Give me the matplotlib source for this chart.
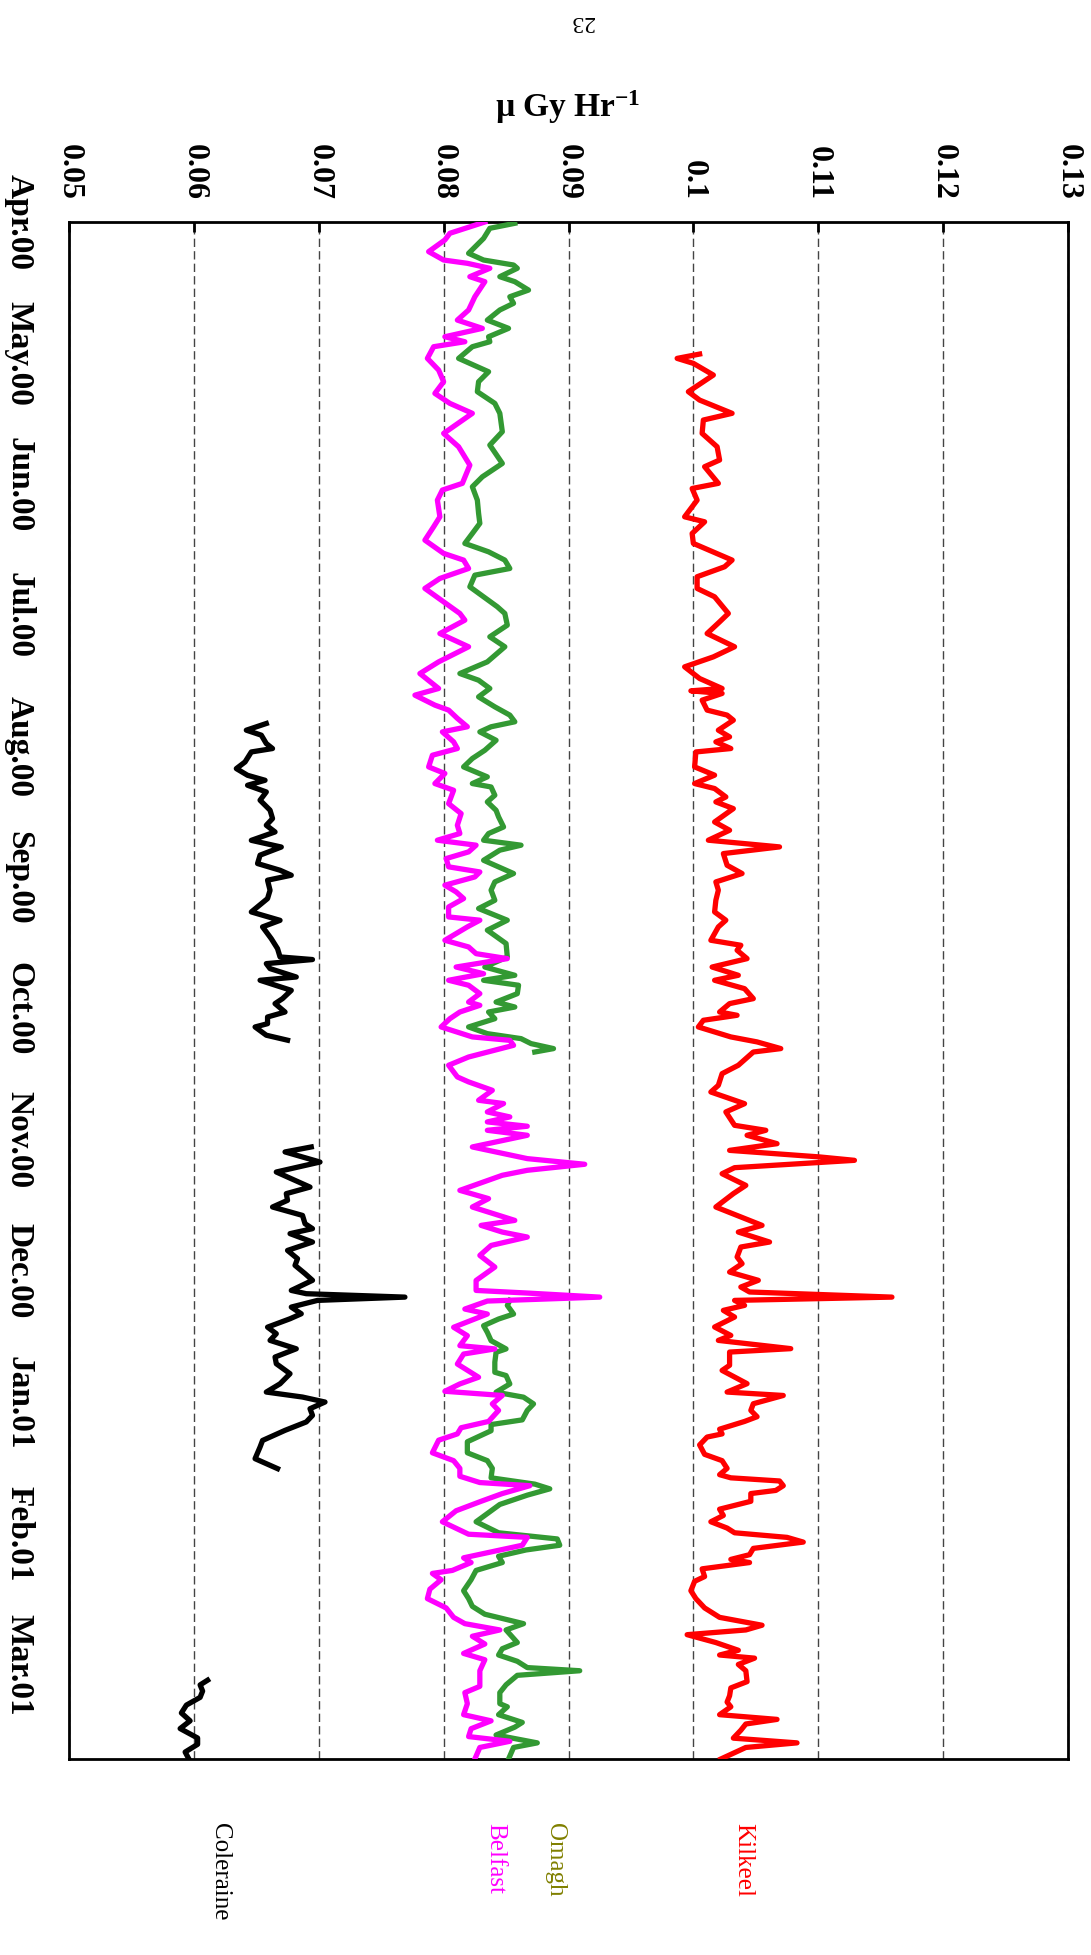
"""
Dose rate chart, four monitoring sites, Apr 2000 - Mar 2001.
Page is printed sideways, so values run across the top and time runs down.
"""
import matplotlib
matplotlib.use("Agg")
import matplotlib.pyplot as plt

plt.rcParams["font.family"] = ["Liberation Serif", "DejaVu Serif"]
plt.rcParams["mathtext.fontset"] = "custom"
plt.rcParams["mathtext.rm"] = "Liberation Serif:bold"
plt.rcParams["mathtext.default"] = "rm"

# time axis: months since Apr.00 (0 = Apr.00, 11 = Mar.01)
MONTHS = ["Apr.00", "May.00", "Jun.00", "Jul.00", "Aug.00", "Sep.00",
          "Oct.00", "Nov.00", "Dec.00", "Jan.01", "Feb.01", "Mar.01"]
DOSE_TICKS = [0.05, 0.06, 0.07, 0.08, 0.09, 0.1, 0.11, 0.12, 0.13]
DOSE_LABELS = ["0.05", "0.06", "0.07", "0.08", "0.09", "0.1", "0.11", "0.12", "0.13"]

kilkeel_t = [1.007, 1.040, 1.078, 1.167, 1.218, 1.294, 1.358, 1.459, 1.510, 1.612, 1.714, 1.815,
             1.866, 1.993, 2.032, 2.121, 2.248, 2.286, 2.375, 2.451, 2.578, 2.629, 2.705, 2.794,
             2.858, 2.985, 3.049, 3.138, 3.239, 3.316, 3.392, 3.481, 3.557, 3.575, 3.595, 3.646,
             3.722, 3.760, 3.799, 3.875, 3.926, 3.964, 4.015, 4.041, 4.155, 4.218, 4.282, 4.320,
             4.384, 4.422, 4.473, 4.575, 4.638, 4.714, 4.765, 4.816, 4.905, 4.968, 5.032, 5.095,
             5.172, 5.261, 5.324, 5.375, 5.477, 5.515, 5.553, 5.617, 5.681, 5.744, 5.782, 5.846,
             5.922, 5.960, 6.024, 6.049, 6.087, 6.138, 6.214, 6.252, 6.303, 6.329, 6.430, 6.494,
             6.583, 6.634, 6.723, 6.786, 6.888, 6.926, 6.964, 7.028, 7.079, 7.129, 7.155, 7.211,
             7.257, 7.346, 7.409, 7.511, 7.651, 7.702, 7.778, 7.816, 7.892, 7.943, 8.007, 8.070,
             8.121, 8.159, 8.198, 8.223, 8.261, 8.299, 8.350, 8.426, 8.490, 8.528, 8.591, 8.617,
             8.718, 8.757, 8.858, 8.922, 8.948, 9.011, 9.062, 9.110, 9.146, 9.205, 9.241, 9.265,
             9.325, 9.397, 9.445, 9.504, 9.552, 9.576, 9.600, 9.636, 9.672, 9.696, 9.755, 9.815,
             9.863, 9.911, 9.959, 9.995, 10.030, 10.066, 10.114, 10.162, 10.198, 10.222, 10.270,
             10.329, 10.365, 10.437, 10.497, 10.568, 10.640, 10.700, 10.736, 10.772, 10.832,
             10.891, 10.927, 10.951, 10.999, 11.047, 11.130, 11.178, 11.238, 11.286, 11.322,
             11.382, 11.418, 11.453, 11.501, 11.561, 11.597, 11.632, 11.72]
kilkeel_v = [0.1005, 0.0987, 0.1000, 0.1016, 0.1008, 0.0996, 0.1005, 0.1031, 0.1008, 0.1007, 0.1019, 0.1021,
             0.1009, 0.1020, 0.0999, 0.1003, 0.0993, 0.1009, 0.0999, 0.1000, 0.1031, 0.1025, 0.1003, 0.1003,
             0.1017, 0.1028, 0.1021, 0.1011, 0.1033, 0.1016, 0.0993, 0.1005, 0.1023, 0.0998, 0.1023, 0.1007,
             0.1011, 0.1027, 0.1032, 0.1020, 0.1029, 0.1018, 0.1030, 0.1002, 0.1001, 0.1017, 0.1001, 0.1017,
             0.1026, 0.1018, 0.1032, 0.1017, 0.1029, 0.1012, 0.1069, 0.1024, 0.1027, 0.1039, 0.1018, 0.1020,
             0.1018, 0.1017, 0.1026, 0.1020, 0.1014, 0.1038, 0.1035, 0.1043, 0.1015, 0.1036, 0.1017, 0.1041,
             0.1048, 0.1029, 0.1021, 0.1035, 0.1008, 0.1004, 0.1030, 0.1051, 0.1070, 0.1048, 0.1036, 0.1023,
             0.1020, 0.1014, 0.1041, 0.1026, 0.1033, 0.1058, 0.1043, 0.1067, 0.1029, 0.1101, 0.1129, 0.1033,
             0.1023, 0.1042, 0.1032, 0.1018, 0.1055, 0.1036, 0.1061, 0.1038, 0.1035, 0.1039, 0.1029, 0.1052,
             0.1038, 0.1045, 0.1159, 0.1033, 0.1041, 0.1024, 0.1033, 0.1017, 0.1030, 0.1020, 0.1078, 0.1029,
             0.1029, 0.1023, 0.1043, 0.1027, 0.1072, 0.1048, 0.1046, 0.1051, 0.1041, 0.1021, 0.1023, 0.1011,
             0.1005, 0.1009, 0.1023, 0.1027, 0.1021, 0.1030, 0.1069, 0.1072, 0.1066, 0.1046, 0.1046, 0.1021,
             0.1024, 0.1014, 0.1027, 0.1033, 0.1075, 0.1088, 0.1048, 0.1045, 0.1030, 0.1045, 0.1007,
             0.1009, 0.1001, 0.0998, 0.1002, 0.1009, 0.1021, 0.1055, 0.1042, 0.0995, 0.1018,
             0.1036, 0.1021, 0.1049, 0.1036, 0.1042, 0.1043, 0.1030, 0.1029, 0.1027, 0.1030,
             0.1021, 0.1067, 0.1042, 0.1038, 0.1032, 0.1083, 0.1042, 0.1022]

belfast_t = [0.000, 0.086, 0.137, 0.226, 0.290, 0.315, 0.353, 0.417, 0.455, 0.570, 0.671, 0.748,
             0.811, 0.875, 0.913, 0.951, 1.040, 1.129, 1.218, 1.307, 1.383, 1.459, 1.612, 1.714,
             1.854, 1.993, 2.044, 2.121, 2.248, 2.324, 2.426, 2.527, 2.578, 2.642, 2.718, 2.794,
             2.985, 3.036, 3.138, 3.239, 3.354, 3.443, 3.557, 3.608, 3.684, 3.722, 3.785, 3.849,
             3.888, 3.964, 4.015, 4.066, 4.155, 4.205, 4.282, 4.333, 4.435, 4.511, 4.600, 4.663,
             4.714, 4.752, 4.803, 4.854, 4.917, 4.956, 4.994, 5.057, 5.108, 5.159, 5.223, 5.299,
             5.324, 5.375, 5.477, 5.528, 5.579, 5.617, 5.681, 5.732, 5.782, 5.820, 5.884, 5.948,
             5.973, 6.024, 6.075, 6.138, 6.214, 6.240, 6.278, 6.367, 6.430, 6.519, 6.557, 6.621,
             6.697, 6.722, 6.786, 6.824, 6.862, 6.895, 6.926, 6.964, 7.053, 7.142, 7.185, 7.231,
             7.269, 7.384, 7.447, 7.511, 7.613, 7.651, 7.702, 7.740, 7.804, 7.880, 7.969, 8.071,
             8.147, 8.167, 8.198, 8.228, 8.289, 8.327, 8.428, 8.492, 8.568, 8.593, 8.632, 8.708,
             8.809, 8.860, 8.916, 8.948, 9.012, 9.062, 9.146, 9.194, 9.241, 9.289, 9.385, 9.445,
             9.504, 9.564, 9.612, 9.636, 9.696, 9.755, 9.827, 9.911, 10.006, 10.030, 10.090,
             10.186, 10.222, 10.282, 10.305, 10.353, 10.425, 10.497, 10.568, 10.640, 10.688,
             10.736, 10.784, 10.843, 10.915, 10.963, 11.047, 11.166, 11.214, 11.298, 11.382,
             11.429, 11.489, 11.549, 11.585, 11.632, 11.72]
belfast_v = [0.0833, 0.0805, 0.0801, 0.0788, 0.0800, 0.0819, 0.0837, 0.0821, 0.0833, 0.0825, 0.0820, 0.0811,
             0.0831, 0.0801, 0.0817, 0.0792, 0.0787, 0.0796, 0.0800, 0.0793, 0.0805, 0.0823, 0.0800, 0.0812,
             0.0821, 0.0815, 0.0799, 0.0795, 0.0797, 0.0792, 0.0785, 0.0800, 0.0816, 0.0820, 0.0797, 0.0785,
             0.0813, 0.0817, 0.0797, 0.0820, 0.0796, 0.0781, 0.0796, 0.0777, 0.0793, 0.0804, 0.0811, 0.0819,
             0.0799, 0.0808, 0.0811, 0.0791, 0.0788, 0.0801, 0.0793, 0.0808, 0.0804, 0.0814, 0.0811, 0.0813,
             0.0795, 0.0826, 0.0820, 0.0802, 0.0804, 0.0829, 0.0825, 0.0801, 0.0810, 0.0816, 0.0804, 0.0804,
             0.0829, 0.0819, 0.0801, 0.0820, 0.0826, 0.0851, 0.0810, 0.0832, 0.0804, 0.0820, 0.0829, 0.0820,
             0.0829, 0.0813, 0.0805, 0.0798, 0.0823, 0.0853, 0.0856, 0.0820, 0.0804, 0.0811, 0.0820, 0.0839,
             0.0828, 0.0848, 0.0835, 0.0853, 0.0835, 0.0867, 0.0835, 0.0867, 0.0823, 0.0867, 0.0913, 0.0867,
             0.0847, 0.0813, 0.0836, 0.0823, 0.0857, 0.0830, 0.0847, 0.0867, 0.0838, 0.0829, 0.0841, 0.0826,
             0.0826, 0.0867, 0.0925, 0.0835, 0.0817, 0.0835, 0.0808, 0.0819, 0.0813, 0.0841, 0.0816, 0.0811,
             0.0828, 0.0813, 0.0801, 0.0847, 0.0839, 0.0844, 0.0836, 0.0814, 0.0811, 0.0796, 0.0791, 0.0808,
             0.0813, 0.0813, 0.0829, 0.0869, 0.0847, 0.0830, 0.0810, 0.0799, 0.0820, 0.0867, 0.0863,
             0.0816, 0.0822, 0.0807, 0.0791, 0.0798, 0.0789, 0.0787, 0.0802, 0.0808, 0.0817,
             0.0845, 0.0823, 0.0833, 0.0816, 0.0833, 0.0829, 0.0829, 0.0817, 0.0819, 0.0816,
             0.0838, 0.0822, 0.0820, 0.0853, 0.0829, 0.0825]

# Omagh has a gap from November to early December
omagh_t1 = [0.010, 0.048, 0.125, 0.239, 0.290, 0.328, 0.353, 0.417, 0.455, 0.519, 0.570, 0.620,
            0.671, 0.748, 0.811, 0.875, 0.913, 0.951, 1.040, 1.142, 1.218, 1.294, 1.383, 1.459,
            1.599, 1.701, 1.841, 1.943, 2.019, 2.121, 2.222, 2.298, 2.375, 2.451, 2.515, 2.578,
            2.642, 2.693, 2.782, 2.934, 2.985, 3.074, 3.163, 3.239, 3.354, 3.443, 3.494, 3.557,
            3.621, 3.697, 3.760, 3.811, 3.849, 3.888, 3.952, 4.028, 4.091, 4.155, 4.231, 4.282,
            4.308, 4.371, 4.422, 4.486, 4.536, 4.613, 4.663, 4.714, 4.752, 4.790, 4.867, 4.968,
            5.032, 5.095, 5.172, 5.235, 5.324, 5.400, 5.502, 5.604, 5.681, 5.744, 5.782, 5.820,
            5.884, 5.948, 5.986, 6.024, 6.075, 6.138, 6.189, 6.227, 6.265, 6.303, 6.329]
omagh_v1 = [0.0857, 0.0837, 0.0832, 0.0820, 0.0832, 0.0856, 0.0859, 0.0845, 0.0857, 0.0868, 0.0853, 0.0856,
            0.0845, 0.0835, 0.0852, 0.0836, 0.0837, 0.0823, 0.0812, 0.0836, 0.0828, 0.0827, 0.0841, 0.0845,
            0.0847, 0.0837, 0.0847, 0.0831, 0.0823, 0.0827, 0.0828, 0.0829, 0.0823, 0.0817, 0.0836, 0.0849,
            0.0853, 0.0825, 0.0821, 0.0843, 0.0849, 0.0851, 0.0837, 0.0849, 0.0835, 0.0813, 0.0828, 0.0837,
            0.0828, 0.0841, 0.0853, 0.0857, 0.0838, 0.0829, 0.0842, 0.0833, 0.0823, 0.0816, 0.0835, 0.0823,
            0.0838, 0.0841, 0.0835, 0.0842, 0.0844, 0.0848, 0.0836, 0.0832, 0.0862, 0.0845, 0.0832, 0.0856,
            0.0841, 0.0838, 0.0841, 0.0828, 0.0851, 0.0835, 0.0850, 0.0851, 0.0833, 0.0857, 0.0832, 0.0860,
            0.0859, 0.0842, 0.0857, 0.0836, 0.0841, 0.0820, 0.0835, 0.0862, 0.0870, 0.0888, 0.0873]
omagh_t2 = [8.223, 8.261, 8.327, 8.365, 8.416, 8.467, 8.530, 8.593, 8.619, 8.694, 8.771, 8.796,
            8.860, 8.923, 8.961, 9.012, 9.062, 9.134, 9.170, 9.217, 9.301, 9.385, 9.445, 9.504,
            9.576, 9.624, 9.660, 9.708, 9.779, 9.911, 9.995, 10.042, 10.090, 10.126, 10.174,
            10.222, 10.282, 10.353, 10.437, 10.497, 10.556, 10.616, 10.688, 10.736, 10.832,
            10.879, 10.927, 10.975, 11.023, 11.047, 11.082, 11.154, 11.214, 11.298, 11.322,
            11.382, 11.441, 11.477, 11.537, 11.597, 11.632, 11.72]
omagh_v2 = [0.0853, 0.0851, 0.0856, 0.0844, 0.0832, 0.0835, 0.0838, 0.0850, 0.0842, 0.0841, 0.0841, 0.0850,
            0.0853, 0.0842, 0.0864, 0.0872, 0.0867, 0.0863, 0.0838, 0.0838, 0.0819, 0.0819, 0.0835, 0.0839,
            0.0838, 0.0873, 0.0885, 0.0867, 0.0845, 0.0826, 0.0844, 0.0891, 0.0893, 0.0866, 0.0844,
            0.0847, 0.0826, 0.0822, 0.0816, 0.0820, 0.0823, 0.0833, 0.0864, 0.0850, 0.0859,
            0.0847, 0.0844, 0.0859, 0.0867, 0.0909, 0.0859, 0.0850, 0.0845, 0.0845, 0.0851,
            0.0844, 0.0863, 0.0857, 0.0842, 0.0875, 0.0856, 0.0852]

# Coleraine only reported for three stretches
coleraine_t1 = [3.824, 3.875, 3.913, 3.977, 4.015, 4.041, 4.117, 4.168, 4.219, 4.257, 4.295, 4.346,
                4.409, 4.485, 4.549, 4.600, 4.651, 4.715, 4.766, 4.828, 4.892, 4.943, 4.981, 5.019,
                5.096, 5.159, 5.261, 5.325, 5.375, 5.465, 5.541, 5.604, 5.624, 5.655, 5.693, 5.757,
                5.782, 5.859, 5.922, 5.960, 6.024, 6.062, 6.113, 6.138, 6.201, 6.239]
coleraine_v1 = [0.0658, 0.0642, 0.0654, 0.0658, 0.0663, 0.0646, 0.0641, 0.0634, 0.0643, 0.0657, 0.0643, 0.0658,
                0.0653, 0.0661, 0.0663, 0.0658, 0.0665, 0.0646, 0.0670, 0.0653, 0.0651, 0.0669, 0.0678, 0.0659,
                0.0661, 0.0659, 0.0646, 0.0669, 0.0655, 0.0662, 0.0667, 0.0669, 0.0695, 0.0658, 0.0661, 0.0682,
                0.0653, 0.0678, 0.0671, 0.0665, 0.0673, 0.0659, 0.0659, 0.0649, 0.0658, 0.0675]
coleraine_t2 = [7.053, 7.091, 7.168, 7.244, 7.359, 7.409, 7.460, 7.511, 7.575, 7.638, 7.676, 7.714,
                7.778, 7.842, 7.905, 7.956, 8.019, 8.070, 8.147, 8.172, 8.198, 8.223, 8.274, 8.325,
                8.363, 8.427, 8.477, 8.528, 8.592, 8.655, 8.706, 8.782, 8.859, 8.922, 8.960, 8.998,
                9.049, 9.100, 9.150, 9.214, 9.291, 9.341, 9.430, 9.506]
coleraine_v2 = [0.0694, 0.0673, 0.0701, 0.0666, 0.0693, 0.0674, 0.0675, 0.0663, 0.0687, 0.0689, 0.0695, 0.0677,
                0.0695, 0.0675, 0.0683, 0.0681, 0.0689, 0.0695, 0.0678, 0.0690, 0.0769, 0.0699, 0.0678, 0.0686,
                0.0677, 0.0659, 0.0666, 0.0661, 0.0682, 0.0665, 0.0666, 0.0677, 0.0669, 0.0658, 0.0687, 0.0705,
                0.0693, 0.0695, 0.0690, 0.0673, 0.0655, 0.0653, 0.0649, 0.0667]
coleraine_t3 = [11.119, 11.155, 11.202, 11.250, 11.309, 11.369, 11.429, 11.488, 11.560, 11.608, 11.667, 11.72]
coleraine_v3 = [0.0611, 0.0605, 0.0607, 0.0605, 0.0594, 0.0590, 0.0597, 0.0589, 0.0603, 0.0603, 0.0593, 0.0596]

W, H = 1091, 1955
fig = plt.figure(figsize=(W / 100, H / 100), dpi=100, facecolor="white")
ax = fig.add_axes([69 / W, 1 - 1759 / H, (1068 - 69) / W, (1759 - 222) / H])

LW = 3.8
ax.plot(kilkeel_v, kilkeel_t, color="#FF0000", lw=LW, solid_joinstyle="round", zorder=3)
ax.plot(omagh_v1, omagh_t1, color="#339933", lw=LW, solid_joinstyle="round", zorder=3)
ax.plot(omagh_v2, omagh_t2, color="#339933", lw=LW, solid_joinstyle="round", zorder=3)
ax.plot(belfast_v, belfast_t, color="#FF00FF", lw=LW, solid_joinstyle="round", zorder=4)
for v, t in [(coleraine_v1, coleraine_t1), (coleraine_v2, coleraine_t2), (coleraine_v3, coleraine_t3)]:
    ax.plot(v, t, color="black", lw=LW, solid_joinstyle="round", zorder=3)

ax.set_xlim(0.05, 0.13)
ax.set_ylim(11.72, 0)

ax.xaxis.tick_top()
ax.set_xticks(DOSE_TICKS)
ax.set_xticklabels(DOSE_LABELS, fontsize=23, fontweight="bold")
ax.tick_params(axis="x", which="both", top=True, bottom=False, direction="in",
               length=7, width=2, pad=16, labelrotation=-90)
ax.xaxis.grid(True, linestyle=(0, (6, 3)), color="#444444", linewidth=1.0)

ax.set_yticks(range(len(MONTHS)))
ax.set_yticklabels(MONTHS, fontsize=24, fontweight="bold")
ax.tick_params(axis="y", left=False, right=False, length=0, pad=25, labelrotation=-90)
for lbl in ax.get_yticklabels():
    lbl.set_va("center")

for s in ax.spines.values():
    s.set_linewidth(2)
    s.set_color("black")

fig.text(568 / W, 1 - 107 / H, "µ Gy Hr$^{-1}$", ha="center", va="center",
         fontsize=24, fontweight="bold")
fig.text(582 / W, 1 - 22 / H, "23", ha="center", va="center", fontsize=17, rotation=180)

series_labels = [("Kilkeel", 743, "#FF0000"), ("Omagh", 555, "#808000"),
                 ("Belfast", 495, "#FF00FF"), ("Coleraine", 220, "black")]
for name, xpix, col in series_labels:
    fig.text(xpix / W, 1 - 1823 / H, name, ha="center", va="top", rotation=-90,
             fontsize=18, color=col)

fig.savefig("out.png", dpi=100, facecolor="white")
